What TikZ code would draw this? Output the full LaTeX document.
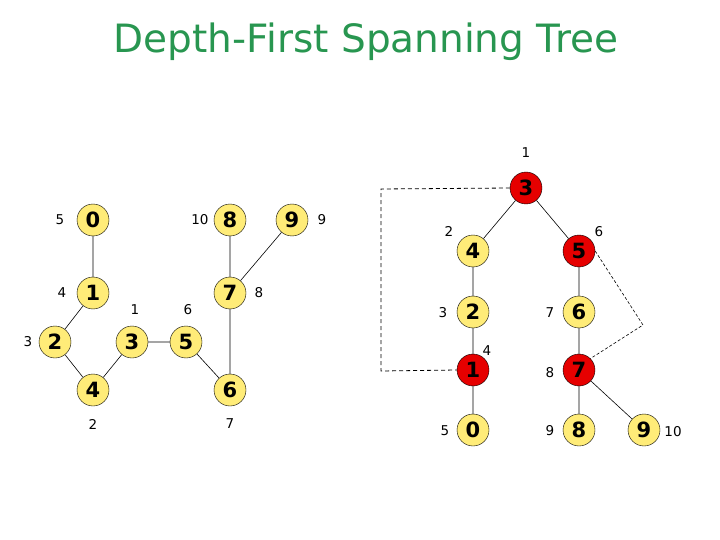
\documentclass[tikz,border=0pt]{standalone}
\usepackage{fontspec}
\setmainfont{DejaVu Sans}
\definecolor{ny}{RGB}{255,236,120}
\definecolor{nr}{RGB}{230,0,0}
\definecolor{tg}{RGB}{40,150,80}
\begin{document}
\begin{tikzpicture}[x=1pt,y=-1pt,
  v/.style={circle,draw=black,fill=ny,minimum size=32pt,inner sep=0pt,font=\bfseries\fontsize{21}{21}\selectfont},
  r/.style={v,fill=nr},
  lb/.style={font=\fontsize{13.5}{13.5}\selectfont},
  e/.style={draw=black,line width=0.6pt}]
\useasboundingbox (0,0) rectangle (720,540);
\node[text=tg, font=\fontsize{39}{39}\selectfont] (title) at (366,42) {Depth-First Spanning Tree};
% left graph
\node[v] (a0) at (93,220) {0};
\node[v] (a1) at (93,293) {1};
\node[v] (a2) at (55,342) {2};
\node[v] (a3) at (132,342) {3};
\node[v] (a4) at (93,390) {4};
\node[v] (a5) at (186,342) {5};
\node[v] (a6) at (230,390) {6};
\node[v] (a7) at (230,293) {7};
\node[v] (a8) at (230,220) {8};
\node[v] (a9) at (292,220) {9};
\draw[e] (a0)--(a1) (a1)--(a2) (a2)--(a4) (a4)--(a3) (a3)--(a5) (a5)--(a6) (a6)--(a7) (a7)--(a8) (a7)--(a9);
\node[lb] (l0) at (60,220) {5};
\node[lb] (l1) at (62,293) {4};
\node[lb] (l2) at (28,342) {3};
\node[lb] (l3) at (135,310) {1};
\node[lb] (l5) at (188,310) {6};
\node[lb] (l4) at (93,424) {2};
\node[lb] (l6) at (230,424) {7};
\node[lb] (l7) at (259,293) {8};
\node[lb] (l8) at (200,220) {10};
\node[lb] (l9) at (322,220) {9};
% right tree
\node[r] (b3) at (526,188) {3};
\node[v] (b4) at (473,251) {4};
\node[r] (b5) at (579,251) {5};
\node[v] (b2) at (473,312) {2};
\node[v] (b6) at (579,312) {6};
\node[r] (b1) at (473,370) {1};
\node[r] (b7) at (579,370) {7};
\node[v] (b0) at (473,430) {0};
\node[v] (b8) at (579,430) {8};
\node[v] (b9) at (644,430) {9};
\draw[e] (b3)--(b4) (b3)--(b5) (b4)--(b2) (b2)--(b1) (b1)--(b0) (b5)--(b6) (b6)--(b7) (b7)--(b8) (b7)--(b9);
\coordinate (c1) at (381,189);
\coordinate (c2) at (381,371);
\coordinate (c3) at (643,325);
\draw[dash pattern=on 4pt off 3pt,line width=0.8pt] (b3.west) -- (c1) -- (c2) -- (b1.west);
\draw[dash pattern=on 3pt off 2pt,line width=0.6pt] (b5.east) -- (c3) -- (b7.north east);
\node[lb] (m3) at (526,153) {1};
\node[lb] (m4) at (449,231) {2};
\node[lb] (m5) at (599,232) {6};
\node[lb] (m2) at (443,313) {3};
\node[lb] (m6) at (550,313) {7};
\node[lb] (m1) at (487,351) {4};
\node[lb] (m7) at (550,373) {8};
\node[lb] (m0) at (445,431) {5};
\node[lb] (m8) at (550,431) {9};
\node[lb] (m9) at (673,432) {10};
\end{tikzpicture}
\end{document}
